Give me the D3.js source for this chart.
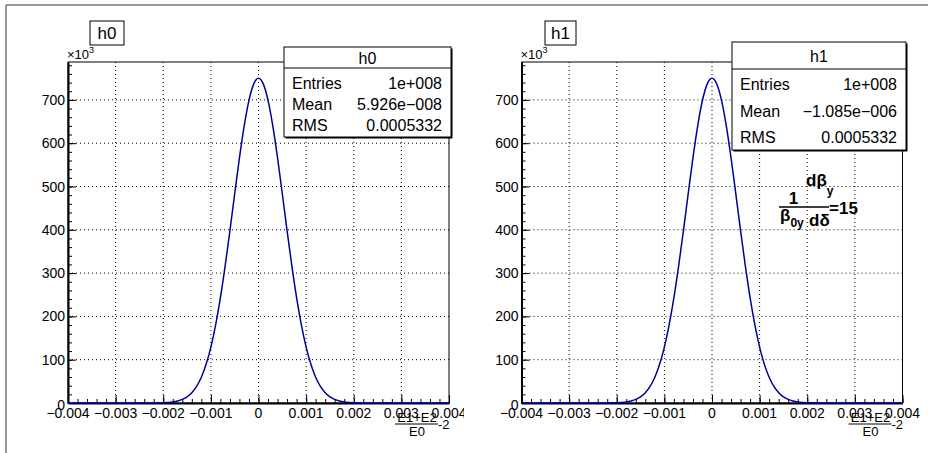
<!DOCTYPE html>
<html><head><meta charset="utf-8">
<script src="https://cdn.jsdelivr.net/npm/d3@7/dist/d3.min.js"></script>
<style>body{margin:0;background:#fff}svg{display:block;font-family:"Liberation Sans",Arial,sans-serif}</style>
</head><body><svg id="c" width="928" height="453"></svg>
<script>
// ---- data ----
const binCenters = [-0.004,-0.0026,-0.0024,-0.0023,-0.0022,-0.0021,-0.0020,-0.0019,-0.0018,-0.0017,-0.0016,-0.0015,-0.0014,-0.0013,-0.0012,-0.0011,-0.0010,-0.0009,-0.0008,-0.0007,-0.0006,-0.0005,-0.0004,-0.0003,-0.0002,-0.0001,0,0.0001,0.0002,0.0003,0.0004,0.0005,0.0006,0.0007,0.0008,0.0009,0.0010,0.0011,0.0012,0.0013,0.0014,0.0015,0.0016,0.0017,0.0018,0.0019,0.0020,0.0021,0.0022,0.0023,0.0024,0.0026,0.004];
const h0Counts = [0,0,0.1,0,0.1,0.3,0.7,1.3,2.5,4.7,8.3,14.3,23.9,38.4,59.6,89.3,129.2,180.4,243.3,316.8,398.2,483.2,566.1,640.2,699.0,736.9,750,736.9,699.0,640.2,566.1,483.2,398.2,316.8,243.3,180.4,129.2,89.3,59.6,38.4,23.9,14.3,8.3,4.7,2.5,1.3,0.7,0.3,0.1,0,0,0,0];
const h1Counts = [0,0,0.1,0,0.1,0.3,0.7,1.3,2.5,4.7,8.3,14.3,23.9,38.4,59.6,89.3,129.2,180.4,243.3,316.8,398.2,483.2,566.1,640.2,699.1,737.0,750,736.8,698.9,640.1,566.0,483.1,398.1,316.7,243.2,180.3,129.1,89.2,59.5,38.4,23.9,14.3,8.3,4.7,2.5,1.3,0.7,0.3,0.1,0,0,0,0];
const xTicks = [-0.004,-0.003,-0.002,-0.001,0,0.001,0.002,0.003,0.004];
const xTickLabels = ["\u22120.004","\u22120.003","\u22120.002","\u22120.001","0","0.001","0.002","0.003","0.004"];
const yTicks = [0,100,200,300,400,500,600,700];
const statLabels = ["Entries","Mean","RMS"];
const h0Stats = ["1e+008","5.926e\u2212008","0.0005332"];
const h1Stats = ["1e+008","\u22121.085e\u2212006","0.0005332"];
const histNames = ["h0","h1"];

const svg = d3.select("#c");
// outer canvas border (top and left)
svg.append("line").attr("x1",6).attr("y1",5).attr("x2",928).attr("y2",5).attr("stroke","#777").attr("stroke-width",1.5);
svg.append("line").attr("x1",6).attr("y1",5).attr("x2",6).attr("y2",453).attr("stroke","#777").attr("stroke-width",1.5);

const panes = [
  {name:histNames[0], counts:h0Counts, stats:h0Stats, fx:68, clipX:0, clipW:464,
   title:{x:90,y:21,w:34,h:24}, box:{x:284,y:47,w:167,h:90,sep:68,rows:[83,104,125],hy:58}},
  {name:histNames[1], counts:h1Counts, stats:h1Stats, fx:521.5, clipX:464, clipW:464,
   title:{x:545,y:21,w:31,h:24}, box:{x:732,y:42,w:174,h:108,sep:69,rows:[84,111,137],hy:56}}
];
const FW = 381, FT = 62, FB = 403;

panes.forEach((p,i)=>{
  const cid = "clip"+i;
  svg.append("clipPath").attr("id",cid).append("rect").attr("x",p.clipX).attr("y",0).attr("width",p.clipW).attr("height",453);
  const g = svg.append("g").attr("clip-path",`url(#${cid})`);
  const x = d3.scaleLinear().domain([-0.004,0.004]).range([p.fx,p.fx+FW]);
  const y = d3.scaleLinear().domain([0,787.5]).range([FB,FT]);

  // grid
  g.append("g").selectAll("line").data(xTicks.slice(1,-1)).join("line")
    .attr("x1",d=>x(d)).attr("x2",d=>x(d)).attr("y1",FT).attr("y2",FB)
    .attr("stroke","#000").attr("stroke-width",1).attr("stroke-dasharray","1,3");
  g.append("g").selectAll("line").data(yTicks.slice(1)).join("line")
    .attr("x1",p.fx).attr("x2",p.fx+FW).attr("y1",d=>y(d)).attr("y2",d=>y(d))
    .attr("stroke","#000").attr("stroke-width",1).attr("stroke-dasharray","1,3");

  // frame
  g.append("rect").attr("x",p.fx).attr("y",FT).attr("width",FW).attr("height",FB-FT)
    .attr("fill","none").attr("stroke","#000").attr("stroke-width",1);

  // minor ticks
  const xMinor = d3.range(-0.004,0.00401,0.0002);
  const yMinor = d3.range(0,787,20);
  g.append("g").attr("transform",`translate(0,${FB})`)
    .call(d3.axisBottom(x).tickValues(xMinor).tickSize(-4).tickSizeOuter(0).tickFormat(""))
    .call(a=>a.select(".domain").remove());
  g.append("g").attr("transform",`translate(${p.fx},0)`)
    .call(d3.axisLeft(y).tickValues(yMinor).tickSize(-4).tickSizeOuter(0).tickFormat(""))
    .call(a=>a.select(".domain").remove());

  // major axes (ticks only)
  const xa = g.append("g").attr("transform",`translate(0,${FB})`)
    .call(d3.axisBottom(x).tickValues(xTicks).tickSize(-8).tickSizeOuter(0).tickFormat(""));
  xa.select(".domain").attr("stroke-width",2);
  const ya = g.append("g").attr("transform",`translate(${p.fx},0)`)
    .call(d3.axisLeft(y).tickValues(yTicks).tickSize(-8).tickSizeOuter(0).tickFormat(""));
  ya.select(".domain").attr("stroke-width",2);

  // tick labels
  g.append("g").selectAll("text").data(xTicks).join("text")
    .attr("x",d=>x(d)).attr("y",FB+14.5).attr("text-anchor","middle")
    .style("font-size","14px").style("fill","#000")
    .text((d,k)=>xTickLabels[k]);
  g.append("g").selectAll("text").data(yTicks).join("text")
    .attr("x",p.fx-3).attr("y",d=>y(d)+(d===0?1.5:0)).attr("dy","0.36em").attr("text-anchor","end")
    .style("font-size","14px").style("fill","#000")
    .text(d=>d);

  // x10^3
  const ex = g.append("text").attr("x",p.fx-1).attr("y",FT-3).style("font-size","13px").attr("fill","#000");
  ex.append("tspan").text("\u00d710");
  ex.append("tspan").style("font-size","9px").attr("dy",-6).text("3");

  // histogram curve
  const line = d3.line().x((d,k)=>x(binCenters[k])).y(d=>y(d)).curve(d3.curveMonotoneX);
  g.append("path").datum(p.counts).attr("d",line).attr("fill","none").attr("stroke","#000099").attr("stroke-width",1.5);

  // x-axis title fraction
  const tx = p.fx+FW;
  g.append("text").attr("x",tx-32).attr("y",422).attr("text-anchor","middle").style("font-size","13px").text("E1+E2");
  g.append("line").attr("x1",tx-54).attr("x2",tx-11).attr("y1",424).attr("y2",424).attr("stroke","#000").attr("stroke-width",1);
  g.append("text").attr("x",tx-32).attr("y",436).attr("text-anchor","middle").style("font-size","13px").text("E0");
  g.append("text").attr("x",tx-11).attr("y",429).style("font-size","13px").text("-2");

  // title box
  const t = p.title;
  g.append("rect").attr("x",t.x).attr("y",t.y).attr("width",t.w).attr("height",t.h).attr("fill","#fff").attr("stroke","#000").attr("stroke-width",1);
  g.append("text").attr("x",t.x+t.w/2).attr("y",t.y+t.h/2).attr("dy","0.36em").attr("text-anchor","middle").style("font-size","17px").text(p.name);

  // stats box
  const b = p.box;
  g.append("rect").attr("x",b.x+1.5).attr("y",b.y+1.5).attr("width",b.w).attr("height",b.h).attr("fill","#000");
  g.append("rect").attr("x",b.x).attr("y",b.y).attr("width",b.w).attr("height",b.h).attr("fill","#fff").attr("stroke","#000").attr("stroke-width",1);
  g.append("line").attr("x1",b.x).attr("x2",b.x+b.w).attr("y1",b.sep).attr("y2",b.sep).attr("stroke","#000").attr("stroke-width",1);
  g.append("text").attr("x",b.x+b.w/2).attr("y",b.hy).attr("dy","0.36em").attr("text-anchor","middle").style("font-size","16px").text(p.name);
  statLabels.forEach((lab,k)=>{
    g.append("text").attr("x",b.x+8).attr("y",b.rows[k]).attr("dy","0.36em").style("font-size","16px").text(lab);
    g.append("text").attr("x",b.x+b.w-9).attr("y",b.rows[k]).attr("dy","0.36em").attr("text-anchor","end").style("font-size","16px").text(p.stats[k]);
  });
});

// annotation on right pane
const ann = svg.append("g").attr("font-weight","bold").attr("fill","#000");
ann.append("text").attr("x",793.5).attr("y",203.5).attr("text-anchor","middle").style("font-size","17px").text("1");
ann.append("line").attr("x1",779).attr("x2",829).attr("y1",207).attr("y2",207).attr("stroke","#000").attr("stroke-width",1.6);
const den = ann.append("text").attr("x",780).attr("y",221).style("font-size","17px");
den.append("tspan").text("\u03b2");
den.append("tspan").style("font-size","12px").attr("dy",6).text("0y");
const num = ann.append("text").attr("x",806).attr("y",186).style("font-size","17px");
num.append("tspan").text("d\u03b2");
num.append("tspan").style("font-size","12px").attr("dy",9).text("y");
ann.append("text").attr("x",809).attr("y",226).style("font-size","17px").text("d\u03b4");
ann.append("text").attr("x",829).attr("y",213.5).style("font-size","17px").text("=15");
</script></body></html>
